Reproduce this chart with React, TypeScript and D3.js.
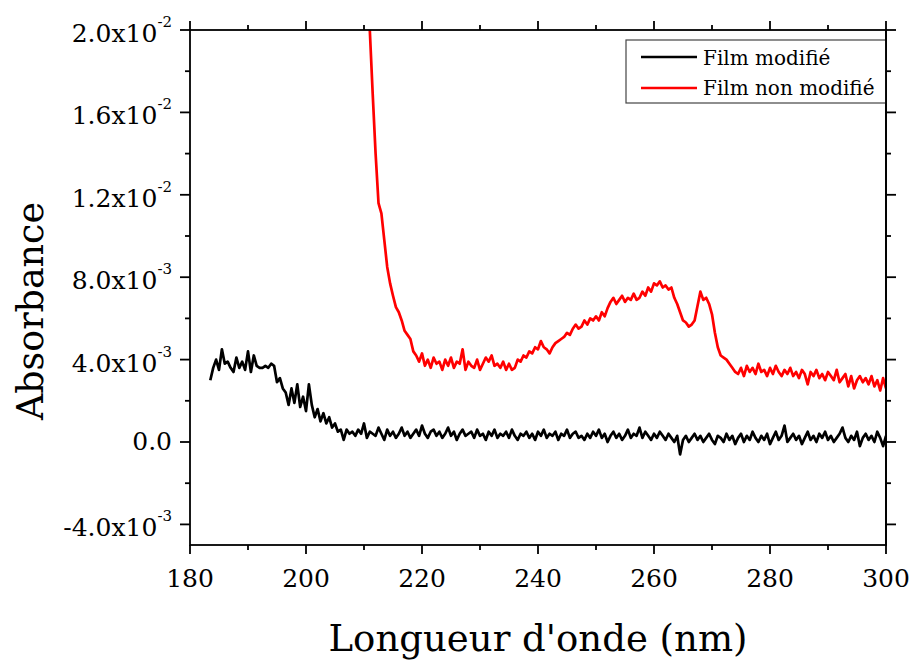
import React from "react";
import * as d3 from "d3";

// Absorbance values in units of 1e-3, sampled every 0.5 nm
const blackStart = 183.5;
const redStart = 210.5;
const step = 0.5;

const filmModifie = [
  3.0, 3.6, 4.0, 3.5, 4.5, 3.8, 3.9, 3.6, 3.4, 4.1,
  3.6, 3.9, 3.5, 4.4, 3.4, 4.2, 3.7, 3.6, 3.6, 3.7,
  3.6, 3.8, 3.7, 2.9, 3.1, 2.6, 2.4, 1.8, 2.6, 1.9,
  2.8, 1.7, 2.2, 1.5, 2.8, 1.8, 1.2, 1.6, 1.0, 1.4,
  0.9, 1.2, 0.7, 0.9, 0.5, 0.6, 0.1, 0.6, 0.4, 0.5,
  0.3, 0.6, 0.4, 0.9, 0.2, 0.5, 0.4, 0.3, 0.7, 0.4,
  0.1, 0.6, 0.3, 0.5, 0.2, 0.4, 0.7, 0.3, 0.5, 0.2,
  0.4, 0.6, 0.3, 0.8, 0.4, 0.2, 0.5, 0.6, 0.3, 0.5,
  0.2, 0.4, 0.7, 0.3, 0.5, 0.1, 0.4, 0.6, 0.3, 0.4,
  0.5, 0.2, 0.6, 0.3, 0.4, 0.1, 0.5, 0.3, 0.6, 0.2,
  0.4, 0.3, 0.5, 0.2, 0.6, 0.3, 0.1, 0.4, 0.3, 0.5,
  0.2, 0.4, 0.1, 0.5, 0.3, 0.6, 0.2, 0.4, 0.3, 0.5,
  0.1, 0.4, 0.3, 0.6, 0.2, 0.4, 0.5, 0.2, 0.3, 0.1,
  0.4, 0.2, 0.5, 0.3, 0.6, 0.2, 0.4, 0.0, 0.3, 0.5,
  0.2, 0.4, 0.1, 0.3, 0.6, 0.2, 0.4, 0.3, 0.7, 0.2,
  0.5, 0.3, 0.1, 0.4, 0.2, 0.5, 0.3, 0.1, 0.4, 0.2,
  0.0, 0.3, -0.6, 0.1, 0.3, 0.0, 0.2, 0.4, 0.1, 0.3,
  0.0, 0.2, 0.4, 0.1, -0.1, 0.3, 0.2, 0.0, 0.4, 0.1,
  0.3, -0.1, 0.2, 0.4, 0.0, 0.3, 0.1, 0.5, 0.2, 0.0,
  0.3, 0.1, 0.4, -0.1, 0.2, 0.5, 0.1, 0.3, 0.8, 0.0,
  0.2, 0.4, 0.1, 0.3, -0.1, 0.2, 0.5, 0.1, 0.3, 0.0,
  0.4, 0.2, 0.5, 0.1, 0.3, 0.0, 0.2, 0.4, 0.7, 0.2,
  0.0, 0.3, 0.1, 0.5, -0.2, 0.2, 0.4, 0.1, 0.3, 0.0,
  0.5, 0.2, -0.2, 0.3,
];

const filmNonModifie = [
  24, 20.0, 16.9, 14.0, 11.6, 11.1, 9.8, 8.5, 7.7, 7.1,
  6.55, 6.3, 5.9, 5.4, 5.2, 5.0, 4.4, 4.2, 3.9, 4.3,
  3.7, 4.0, 3.6, 4.1, 3.8, 3.9, 3.5, 4.0, 3.7, 4.1,
  3.6, 3.9, 3.8, 4.5, 3.5, 3.9, 3.7, 3.6, 4.0, 3.5,
  3.8, 4.1, 3.9, 4.2, 3.7, 3.8, 3.6, 3.9, 3.5, 3.8,
  3.5, 3.6, 4.0, 3.9, 4.2, 4.1, 4.4, 4.3, 4.6, 4.5,
  4.9, 4.6, 4.5, 4.3, 4.6, 4.8, 4.9, 5.0, 5.1, 5.3,
  5.2, 5.5, 5.7, 5.5, 5.6, 5.9, 5.7, 6.0, 5.9, 6.1,
  5.9, 6.3, 6.1, 6.5, 6.8, 7.0, 6.7, 6.9, 7.1, 6.8,
  7.0, 6.9, 7.2, 6.9, 7.0, 7.3, 7.1, 7.5, 7.3, 7.7,
  7.6, 7.8, 7.5, 7.6, 7.4, 7.5, 7.0, 6.7, 6.3, 5.9,
  5.8, 5.6, 5.7, 5.9, 6.6, 7.3, 6.9, 7.0, 6.7, 6.2,
  5.3, 4.6, 4.2, 4.1, 4.0, 3.8, 3.6, 3.4, 3.3, 3.6,
  3.2, 3.7, 3.4, 3.6, 3.3, 3.8, 3.4, 3.5, 3.2, 3.6,
  3.3, 3.7, 3.4, 3.2, 3.5, 3.3, 3.6, 3.2, 3.4, 3.1,
  3.5, 3.3, 2.8, 3.4, 3.2, 3.5, 3.1, 3.3, 3.0, 3.4,
  3.2, 3.0, 3.5, 2.9, 3.1, 3.3, 2.7, 3.2, 2.6, 3.0,
  3.2, 2.9, 3.1, 2.8, 3.2, 2.7, 3.0, 2.5, 3.1, 2.6,
];

const xMajorTicks = [180, 200, 220, 240, 260, 280, 300];
const xMinorTicks = [190, 210, 230, 250, 270, 290];
const yMajorTicks = [-4e-3, 0, 4e-3, 8e-3, 1.2e-2, 1.6e-2, 2.0e-2];
const yMajorLabels = [
  ["-4.0x10", "-3"],
  ["0.0", ""],
  ["4.0x10", "-3"],
  ["8.0x10", "-3"],
  ["1.2x10", "-2"],
  ["1.6x10", "-2"],
  ["2.0x10", "-2"],
];
const yMinorTicks = [-2e-3, 2e-3, 6e-3, 1.0e-2, 1.4e-2, 1.8e-2];
const seriesNames = ["Film modifié", "Film non modifié"];
const seriesColors = ["#000000", "#ff0000"];

const W = 913;
const H = 662;
const L = 190, R = 886, T = 30, B = 545;
const FONT = "'DejaVu Serif', serif";

export default function App() {
  const x = d3.scaleLinear().domain([180, 300]).range([L, R]);
  const y = d3.scaleLinear().domain([-5e-3, 2.0e-2]).range([B, T]);

  const black = filmModifie.map((v, i) => [blackStart + i * step, v * 1e-3] as [number, number]);
  const red = filmNonModifie.map((v, i) => [redStart + i * step, v * 1e-3] as [number, number]);
  const line = d3.line<[number, number]>().x((d) => x(d[0])).y((d) => y(d[1]));

  const axisColor = "#000";
  const sw = 1.8;

  return (
    <svg width={W} height={H} style={{ position: "absolute", left: 0, top: 0, background: "#fff" }}>
      <defs>
        <clipPath id="plotClip">
          <rect x={L} y={T} width={R - L} height={B - T} />
        </clipPath>
      </defs>
      <rect x={0} y={0} width={W} height={H} fill="#fff" />

      {/* data */}
      <g clipPath="url(#plotClip)" fill="none" strokeWidth={2.7} strokeLinejoin="round">
        <path d={line(black) || ""} stroke={seriesColors[0]} />
        <path d={line(red) || ""} stroke={seriesColors[1]} />
      </g>

      {/* frame */}
      <rect x={L} y={T} width={R - L} height={B - T} fill="none" stroke={axisColor} strokeWidth={sw} />

      {/* x ticks bottom & top */}
      {xMajorTicks.map((t) => (
        <g key={"xm" + t}>
          <line x1={x(t)} x2={x(t)} y1={B} y2={B + 9} stroke={axisColor} strokeWidth={sw} />
          <line x1={x(t)} x2={x(t)} y1={T} y2={T - 9} stroke={axisColor} strokeWidth={sw} />
          <text x={x(t)} y={587} textAnchor="middle" fontFamily={FONT} fontSize={25} fill="#000">
            {t}
          </text>
        </g>
      ))}
      {xMinorTicks.map((t) => (
        <g key={"xn" + t}>
          <line x1={x(t)} x2={x(t)} y1={B} y2={B + 5} stroke={axisColor} strokeWidth={sw} />
          <line x1={x(t)} x2={x(t)} y1={T} y2={T - 5} stroke={axisColor} strokeWidth={sw} />
        </g>
      ))}

      {/* y ticks left & right */}
      {yMajorTicks.map((t, i) => (
        <g key={"ym" + i}>
          <line x1={L} x2={L - 10} y1={y(t)} y2={y(t)} stroke={axisColor} strokeWidth={sw} />
          <line x1={R} x2={R + 10} y1={y(t)} y2={y(t)} stroke={axisColor} strokeWidth={sw} />
          <text
            x={172}
            y={y(t) + (yMajorLabels[i][1] ? 12 : 8)}
            textAnchor="end"
            fontFamily={FONT}
            fontSize={25}
            fill="#000"
          >
            <tspan>{yMajorLabels[i][0]}</tspan>
            {yMajorLabels[i][1] ? (
              <tspan dy={-15} fontSize={15}>
                {yMajorLabels[i][1]}
              </tspan>
            ) : null}
          </text>
        </g>
      ))}
      {yMinorTicks.map((t, i) => (
        <g key={"yn" + i}>
          <line x1={L} x2={L - 5} y1={y(t)} y2={y(t)} stroke={axisColor} strokeWidth={sw} />
          <line x1={R} x2={R + 5} y1={y(t)} y2={y(t)} stroke={axisColor} strokeWidth={sw} />
        </g>
      ))}

      {/* axis titles */}
      <text
        x={538}
        y={651}
        textAnchor="middle"
        fontFamily={FONT}
        fontSize={38}
        textLength={419}
        lengthAdjust="spacingAndGlyphs"
        fill="#000"
      >
        Longueur d'onde (nm)
      </text>
      <text
        transform="translate(43,311) rotate(-90)"
        textAnchor="middle"
        fontFamily={FONT}
        fontSize={37}
        textLength={218}
        lengthAdjust="spacingAndGlyphs"
        fill="#000"
      >
        Absorbance
      </text>

      {/* legend */}
      <rect x={626} y={40} width={R - 626} height={63} fill="#fff" stroke="#444" strokeWidth={1.2} />
      {seriesNames.map((n, i) => (
        <g key={n}>
          <line x1={641} x2={697} y1={57 + i * 31} y2={57 + i * 31} stroke={seriesColors[i]} strokeWidth={2.4} />
          <text x={703} y={65 + i * 30} fontFamily={FONT} fontSize={20} fill="#000">
            {n}
          </text>
        </g>
      ))}
      <line x1={R} x2={R} y1={T} y2={B} stroke={axisColor} strokeWidth={sw} />
    </svg>
  );
}
